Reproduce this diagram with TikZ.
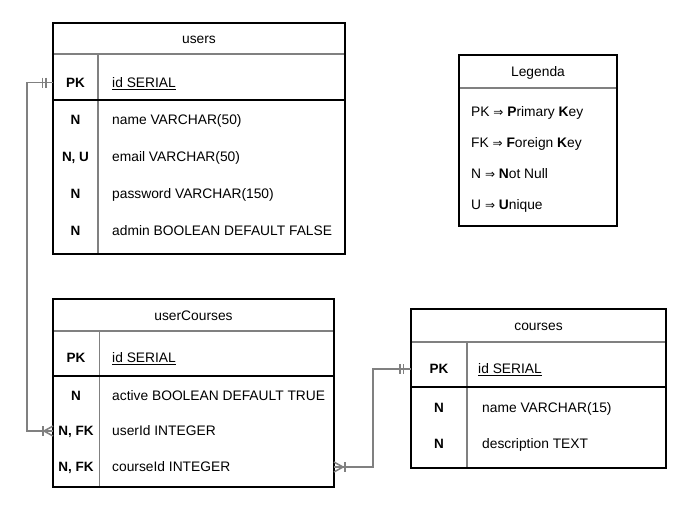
\documentclass[tikz,border=0pt]{standalone}
\usepackage{fontspec}
\setmainfont{Liberation Sans}
\newfontfamily\arrowfont{DejaVu Sans}
\usetikzlibrary{positioning}

\definecolor{linegray}{RGB}{128,128,128}

\tikzset{
  tblarea/.style={anchor=north west, inner sep=0pt, outer sep=0pt},
  border/.style={draw=black, line width=1.2pt},
  sep/.style={draw=linegray, line width=1.6pt},
  conn/.style={draw=linegray, line width=1.5pt},
  cell/.style={font=\fontsize{13.8}{16}\selectfont, inner sep=0pt,
    text height=9.8pt, text depth=0pt},
  key/.style={cell, font=\fontsize{13.5}{16}\selectfont\bfseries},
  field/.style={cell, anchor=west},
}

\newcommand{\impl}{{\arrowfont\fontsize{12}{16}\selectfont ⇒}}

\begin{document}
\begin{tikzpicture}[x=1pt, y=-1pt]
  \useasboundingbox (0,0) rectangle (692,512);

  % users
  \node[tblarea, minimum width=292, minimum height=231] (users) at (53,23) {};
  \draw[sep] (users.west |- 0,54) -- (users.east |- 0,54);
  \draw[sep] (98,54) -- (98,254);
  \draw[border] (users.west |- 0,100) -- (users.east |- 0,100);
  \draw[border] (users.north west) rectangle (users.south east);
  \node[cell] (usersT) at (199,38.5) {users};
  \node[key] (usersPK) at (75.5,82.5) {PK};
  \node[field] (usersId) at (112,82.5) {\underline{id SERIAL}};
  \foreach \k/\f/\y [count=\i] in {N/name VARCHAR(50)/120,
      {N, U}/email VARCHAR(50)/157, N/password VARCHAR(150)/194,
      N/admin BOOLEAN DEFAULT FALSE/231} {
    \node[key] (usersK\i) at (75.5,\y) {\k};
    \node[field] (usersF\i) at (112,\y) {\f};
  }

  % userCourses
  \node[tblarea, minimum width=281, minimum height=188] (uc) at (53,299) {};
  \draw[sep] (uc.west |- 0,331) -- (uc.east |- 0,331);
  \draw[sep] (99.5,331) -- (99.5,487);
  \draw[border] (uc.west |- 0,376) -- (uc.east |- 0,376);
  \draw[border] (uc.north west) rectangle (uc.south east);
  \node[cell] (ucT) at (193.5,315.5) {userCourses};
  \node[key] (ucPK) at (76,358) {PK};
  \node[field] (ucId) at (112,358) {\underline{id SERIAL}};
  \foreach \k/\f/\y [count=\i] in {N/active BOOLEAN DEFAULT TRUE/396,
      {N, FK}/userId INTEGER/431, {N, FK}/courseId INTEGER/467} {
    \node[key] (ucK\i) at (76,\y) {\k};
    \node[field] (ucF\i) at (112,\y) {\f};
  }

  % courses
  \node[tblarea, minimum width=255, minimum height=159] (courses) at (411,309) {};
  \draw[sep] (courses.west |- 0,342) -- (courses.east |- 0,342);
  \draw[sep] (467,342) -- (467,468);
  \draw[border] (courses.west |- 0,387) -- (courses.east |- 0,387);
  \draw[border] (courses.north west) rectangle (courses.south east);
  \node[cell] (coursesT) at (538.5,325.5) {courses};
  \node[key] (coursesPK) at (439,369) {PK};
  \node[field] (coursesId) at (478,369) {\underline{id SERIAL}};
  \node[key] (coursesK1) at (439,408) {N};
  \node[field] (coursesF1) at (482,408) {name VARCHAR(15)};
  \node[key] (coursesK2) at (439,444) {N};
  \node[field] (coursesF2) at (482,444) {description TEXT};

  % Legenda
  \node[tblarea, minimum width=158, minimum height=171] (leg) at (459,55) {};
  \draw[sep] (leg.west |- 0,88) -- (leg.east |- 0,88);
  \draw[border] (leg.north west) rectangle (leg.south east);
  \node[cell] (legT) at (538,71.5) {Legenda};
  \node[field] (leg1) at (471,111.5) {PK \impl{} \textbf{P}rimary \textbf{K}ey};
  \node[field] (leg2) at (471,142.5) {FK \impl{} \textbf{F}oreign \textbf{K}ey};
  \node[field] (leg3) at (471,173.5) {N \impl{} \textbf{N}ot Null};
  \node[field] (leg4) at (471,204.5) {U \impl{} \textbf{U}nique};

  % users.id -- userCourses.userId
  \coordinate (r1a) at (users.west |- usersPK);
  \coordinate (r1b) at (uc.west |- ucK2);
  \draw[conn] (r1a) -- ++(-26,0) |- (r1b);
  \draw[conn] ([xshift=-10.5]r1a) ++(0,-5) -- ++(0,10);
  \draw[conn] ([xshift=-7]r1a) ++(0,-5) -- ++(0,10);
  \draw[conn] ([xshift=-10]r1b) ++(0,-5) -- ++(0,10);
  \draw[conn] ([yshift=-5]r1b) -- ([xshift=-9]r1b) -- ([yshift=5]r1b);

  % courses.id -- userCourses.courseId
  \coordinate (r2a) at (uc.east |- ucK3);
  \coordinate (r2b) at (courses.west |- coursesPK);
  \draw[conn] (r2a) -- ++(39,0) |- (r2b);
  \draw[conn] ([yshift=-5]r2a) -- ([xshift=9]r2a) -- ([yshift=5]r2a);
  \draw[conn] ([xshift=11]r2a) ++(0,-5) -- ++(0,10);
  \draw[conn] ([xshift=-11]r2b) ++(0,-5) -- ++(0,10);
  \draw[conn] ([xshift=-7.5]r2b) ++(0,-5) -- ++(0,10);
\end{tikzpicture}
\end{document}
